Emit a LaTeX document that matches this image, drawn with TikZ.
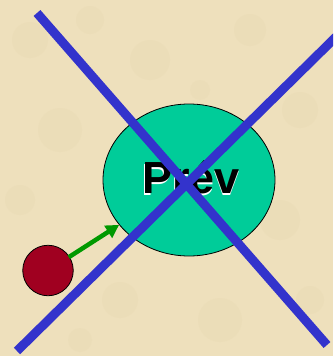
\documentclass[tikz,border=0pt]{standalone}
\usepackage{fontspec}
\setmainfont{Liberation Sans}
\usetikzlibrary{shapes.geometric,arrows.meta}
\definecolor{parch}{RGB}{238,224,188}
\definecolor{parchdark}{RGB}{224,206,162}
\definecolor{elgreen}{RGB}{0,204,153}
\definecolor{dotred}{RGB}{160,0,32}
\definecolor{xblue}{RGB}{51,51,204}
\definecolor{argreen}{RGB}{0,153,0}
\tikzset{
  ovalbox/.style={ellipse,draw=black,line width=0.8pt,fill=elgreen,minimum width=172pt,minimum height=152pt,inner sep=0pt},
  dotbox/.style={circle,draw=black,line width=0.8pt,fill=dotred,minimum size=50.5pt,inner sep=0pt},
  bigtext/.style={font=\fontsize{45}{45}\selectfont\bfseries,inner sep=0pt,anchor=base},
  greenarrow/.style={draw=argreen,line width=4.5pt,-{Triangle[length=13pt,width=14pt]}},
  crossline/.style={draw=xblue,line width=9pt,line cap=butt}
}
\begin{document}
\begin{tikzpicture}[x=1pt,y=-1pt]
\useasboundingbox (0,0) rectangle (333,356);
\clip (0,0) rectangle (333,356);
\fill[parch] (0,0) rectangle (333,356);
% subtle parchment mottling
\foreach \px/\py/\r in {30/40/18,90/20/14,150/60/20,250/30/16,300/110/18,60/130/22,20/200/15,280/220/20,120/300/18,220/320/22,310/300/14,80/340/12,200/90/10,40/280/10}{
  \fill[parchdark,opacity=0.15] (\px,\py) circle (\r);
}
\node[ovalbox] (prev) at (189,180) {};
\node[bigtext,text=white] (prevshadow) at (190.5,195) {Prév};
\node[bigtext,text=black] (prevtext) at (191,193) {Prév};
\node[dotbox] (dot) at (48,270.5) {};
\draw[greenarrow,shorten <=-1pt] (dot) -- (prev);
\coordinate (la) at (37,13);
\coordinate (lb) at (327,345);
\coordinate (lc) at (17,351);
\coordinate (ld) at (345,28);
\draw[crossline] (la) -- (lb);
\draw[crossline] (lc) -- (ld);
\end{tikzpicture}
\end{document}
